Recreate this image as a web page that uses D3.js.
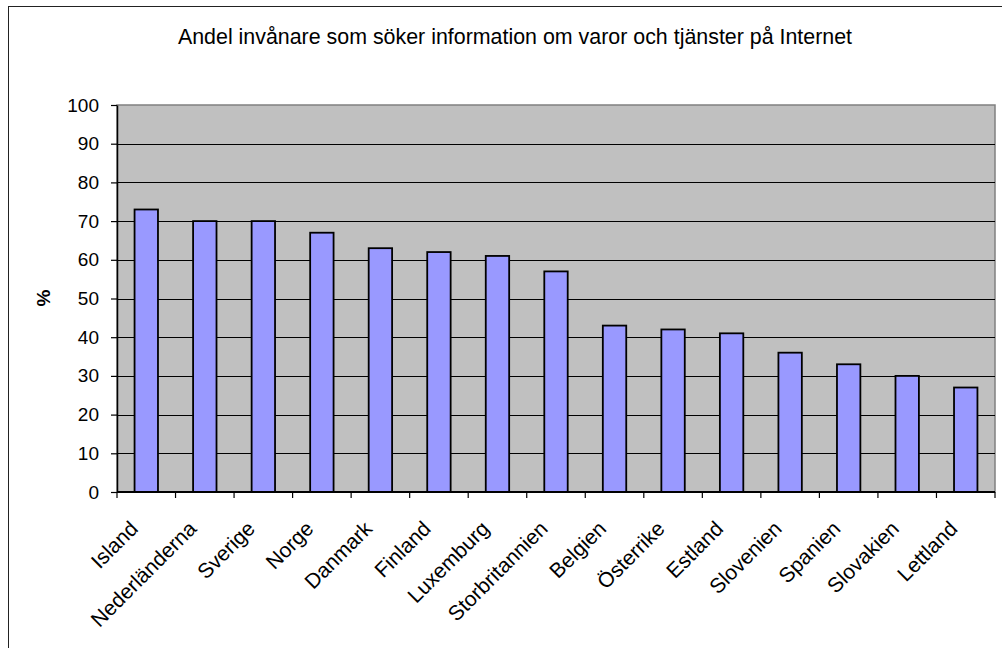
<!DOCTYPE html>
<html>
<head>
<meta charset="utf-8">
<script src="https://cdn.jsdelivr.net/npm/d3@7"></script>
<style>
  html, body { margin: 0; padding: 0; background: #fff; }
  svg { display: block; }
  text { font-family: "Liberation Sans", Arial, sans-serif; fill: #000; }
</style>
</head>
<body>
<svg id="chart" width="1002" height="648"></svg>
<script>
const title = "Andel invånare som söker information om varor och tjänster på Internet";
const yLabel = "%";
const categories = ["Island", "Nederländerna", "Sverige", "Norge", "Danmark", "Finland", "Luxemburg", "Storbritannien", "Belgien", "Österrike", "Estland", "Slovenien", "Spanien", "Slovakien", "Lettland"];
const values = [73, 70, 70, 67, 63, 62, 61, 57, 43, 42, 41, 36, 33, 30, 27];
const yTicks = [0, 10, 20, 30, 40, 50, 60, 70, 80, 90, 100];

const svg = d3.select("#chart");
const L = 117, R = 995, T = 105, B = 492;

// outer chart border (partially cropped)
svg.append("rect")
  .attr("x", 8.5).attr("y", 6.5).attr("width", 1010).attr("height", 660)
  .attr("fill", "#fff").attr("stroke", "#222").attr("stroke-width", 1);

const x = d3.scaleBand().domain(categories).range([L, R]).padding(0);
const y = d3.scaleLinear().domain([0, 100]).range([B, T]);

// plot area
svg.append("rect")
  .attr("x", L).attr("y", T).attr("width", R - L).attr("height", B - T)
  .attr("fill", "#c0c0c0").attr("stroke", "#808080").attr("stroke-width", 1.5);

// gridlines
svg.append("g").selectAll("line")
  .data(yTicks.filter(d => d > 0 && d < 100))
  .join("line")
  .attr("x1", L).attr("x2", R)
  .attr("y1", d => Math.round(y(d)) + 0.5).attr("y2", d => Math.round(y(d)) + 0.5)
  .attr("stroke", "#000").attr("stroke-width", 1);

// bars
const bw = x.bandwidth() * 0.4;
svg.append("g").selectAll("rect")
  .data(values)
  .join("rect")
  .attr("x", (d, i) => x(categories[i]) + x.bandwidth() / 2 - bw / 2)
  .attr("y", d => y(d))
  .attr("width", bw)
  .attr("height", d => B - y(d))
  .attr("fill", "#9999ff")
  .attr("stroke", "#000")
  .attr("stroke-width", 1.8);

// y axis
const yAxis = svg.append("g")
  .attr("transform", `translate(${L},0)`)
  .call(d3.axisLeft(y).tickValues(yTicks).tickSize(6).tickPadding(12).tickSizeOuter(0));
yAxis.select(".domain").attr("stroke", "#000").attr("stroke-width", 1.5);
yAxis.selectAll(".tick line").attr("stroke", "#000").attr("stroke-width", 1.2);
yAxis.selectAll(".tick text")
  .style("font-family", "'Liberation Sans', Arial, sans-serif")
  .style("font-size", "19px").attr("fill", "#000");

// x axis
svg.append("line")
  .attr("x1", L).attr("x2", R).attr("y1", B).attr("y2", B)
  .attr("stroke", "#000").attr("stroke-width", 2);
const boundaries = categories.map(c => x(c)).concat([R]);
svg.append("g").selectAll("line")
  .data(boundaries)
  .join("line")
  .attr("x1", d => d).attr("x2", d => d)
  .attr("y1", B).attr("y2", B + 6)
  .attr("stroke", "#000").attr("stroke-width", 1.2);

// x labels
svg.append("g").selectAll("text")
  .data(categories)
  .join("text")
  .attr("transform", d => `translate(${x(d) + x.bandwidth() / 2 - 7},${B + 38}) rotate(-45)`)
  .attr("text-anchor", "end")
  .style("font-size", "21px")
  .text(d => d);

// y label
svg.append("text")
  .attr("transform", `translate(50,298) rotate(-90)`)
  .attr("text-anchor", "middle")
  .style("font-size", "19px")
  .style("font-weight", "bold")
  .text(yLabel);

// title
svg.append("text")
  .attr("x", 515).attr("y", 44)
  .attr("text-anchor", "middle")
  .style("font-size", "21.4px")
  .text(title);
</script>
</body>
</html>
